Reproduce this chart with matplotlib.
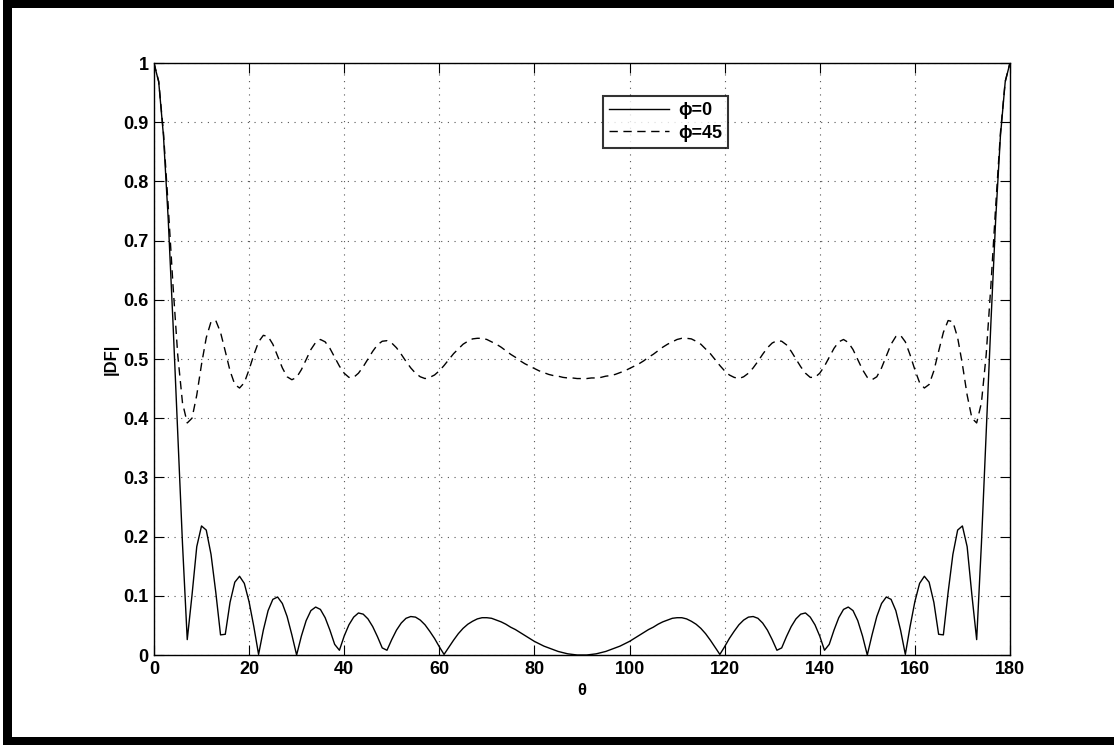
import matplotlib
matplotlib.use("Agg")
import matplotlib.pyplot as plt
from matplotlib.patches import Rectangle
from matplotlib.ticker import MultipleLocator, FuncFormatter

# Elevation angle grid (degrees)
theta = list(range(0, 181))

# |DF| for the phi = 0 cut
df_phi0 = [
    1.000, 0.968, 0.877, 0.736, 0.562, 0.373, 0.188, 0.026, 0.101, 0.183,
    0.218, 0.211, 0.170, 0.106, 0.034, 0.035, 0.089, 0.123, 0.133, 0.121,
    0.090, 0.048, 0.001, 0.042, 0.075, 0.094, 0.098, 0.087, 0.065, 0.034,
    0.000, 0.032, 0.058, 0.075, 0.081, 0.077, 0.063, 0.042, 0.018, 0.008,
    0.032, 0.051, 0.064, 0.071, 0.069, 0.061, 0.048, 0.031, 0.012, 0.008,
    0.026, 0.042, 0.054, 0.062, 0.065, 0.064, 0.059, 0.051, 0.040, 0.028,
    0.014, 0.001, 0.013, 0.025, 0.036, 0.045, 0.052, 0.057, 0.061, 0.063,
    0.063, 0.062, 0.059, 0.056, 0.052, 0.047, 0.043, 0.038, 0.033, 0.028,
    0.023, 0.019, 0.015, 0.012, 0.009, 0.006, 0.004, 0.002, 0.001, 0.000,
    0.000,
    0.000, 0.001, 0.002, 0.004, 0.006, 0.009, 0.012, 0.015, 0.019,
    0.023, 0.028, 0.033, 0.038, 0.043, 0.047, 0.052, 0.056, 0.059, 0.062,
    0.063, 0.063, 0.061, 0.057, 0.052, 0.045, 0.036, 0.025, 0.013, 0.001,
    0.014, 0.028, 0.040, 0.051, 0.059, 0.064, 0.065, 0.062, 0.054, 0.042,
    0.026, 0.008, 0.012, 0.031, 0.048, 0.061, 0.069, 0.071, 0.064, 0.051,
    0.032, 0.008, 0.018, 0.042, 0.063, 0.077, 0.081, 0.075, 0.058, 0.032,
    0.000, 0.034, 0.065, 0.087, 0.098, 0.094, 0.075, 0.042, 0.001, 0.048,
    0.090, 0.121, 0.133, 0.123, 0.089, 0.035, 0.034, 0.106, 0.170, 0.211,
    0.218, 0.183, 0.101, 0.026, 0.188, 0.373, 0.562, 0.736, 0.877, 0.968,
    1.000,
]

# |DF| for the phi = 45 cut
df_phi45 = [
    1.000, 0.969, 0.882, 0.758, 0.625, 0.507, 0.426, 0.392, 0.400, 0.439,
    0.491, 0.536, 0.563, 0.565, 0.545, 0.513, 0.480, 0.457, 0.451, 0.460,
    0.482, 0.507, 0.529, 0.540, 0.538, 0.525, 0.505, 0.485, 0.470, 0.465,
    0.469, 0.482, 0.499, 0.516, 0.528, 0.533, 0.529, 0.518, 0.503, 0.488,
    0.476, 0.469, 0.469, 0.476, 0.487, 0.500, 0.513, 0.524, 0.530, 0.531,
    0.527, 0.519, 0.508, 0.496, 0.485, 0.476, 0.470, 0.467, 0.469, 0.473,
    0.480, 0.489, 0.499, 0.509, 0.517, 0.525, 0.530, 0.534, 0.535, 0.535,
    0.533, 0.529, 0.525, 0.520, 0.514, 0.508, 0.503, 0.497, 0.492, 0.488,
    0.484, 0.480, 0.477, 0.474, 0.472, 0.471, 0.469, 0.468, 0.468, 0.467,
    0.467,
    0.467, 0.468, 0.468, 0.469, 0.471, 0.472, 0.474, 0.477, 0.480,
    0.484, 0.488, 0.492, 0.497, 0.503, 0.508, 0.514, 0.520, 0.525, 0.529,
    0.533, 0.535, 0.535, 0.534, 0.530, 0.525, 0.517, 0.509, 0.499, 0.489,
    0.480, 0.473, 0.469, 0.467, 0.470, 0.476, 0.485, 0.496, 0.508, 0.519,
    0.527, 0.531, 0.530, 0.524, 0.513, 0.500, 0.487, 0.476, 0.469, 0.469,
    0.476, 0.488, 0.503, 0.518, 0.529, 0.533, 0.528, 0.516, 0.499, 0.482,
    0.469, 0.465, 0.470, 0.485, 0.505, 0.525, 0.538, 0.540, 0.529, 0.507,
    0.482, 0.460, 0.451, 0.457, 0.480, 0.513, 0.545, 0.565, 0.563, 0.536,
    0.491, 0.439, 0.400, 0.392, 0.426, 0.507, 0.625, 0.758, 0.882, 0.969,
    1.000,
]

series_labels = ["ϕ=0", "ϕ=45"]
x_label = "θ"
y_label = "|DF|"

FONT = ["Liberation Sans", "DejaVu Sans"]
plt.rcParams["font.family"] = FONT
plt.rcParams["font.weight"] = "bold"

fig = plt.figure(figsize=(11.14, 7.45), dpi=100)
fig.patch.set_facecolor("white")

# Thick dark frame around the window (top, left, bottom)
for (x0, y0, w, h) in [(0.0027, 0.9893, 0.9973, 0.0107),
                       (0.0027, 0.0, 0.0081, 1.0),
                       (0.0027, 0.0, 0.9973, 0.0107)]:
    fig.add_artist(Rectangle((x0, y0), w, h, transform=fig.transFigure,
                             facecolor="black", edgecolor="none", zorder=10))

ax = fig.add_axes([0.1382, 0.1208, 0.7684, 0.7946])

ax.plot(theta, df_phi0, color="black", lw=1.0, label=series_labels[0])
ln45, = ax.plot(theta, df_phi45, color="black", lw=1.0, label=series_labels[1])
ln45.set_dashes((6, 4))

ax.set_xlim(0, 180)
ax.set_ylim(0, 1)
ax.xaxis.set_major_locator(MultipleLocator(20))
ax.yaxis.set_major_locator(MultipleLocator(0.1))
ax.yaxis.set_major_formatter(FuncFormatter(lambda v, p: f"{v:g}"))
ax.xaxis.set_major_formatter(FuncFormatter(lambda v, p: f"{v:g}"))

ax.grid(True, color="#555555", linestyle=(0, (1, 5)), linewidth=0.8)
ax.tick_params(direction="in", length=7, width=0.8, top=True, right=True,
               labelsize=13, pad=4)
for lab in ax.get_xticklabels() + ax.get_yticklabels():
    lab.set_fontweight("bold")
for s in ax.spines.values():
    s.set_linewidth(1.0)

ax.set_xlabel(x_label, fontsize=12, fontweight="bold", labelpad=4)
ax.set_ylabel(y_label, fontsize=12, fontweight="bold", labelpad=3)

leg = ax.legend(loc="upper left", bbox_to_anchor=(0.5245, 0.9444),
                prop={"size": 13, "weight": "bold"}, frameon=True,
                fancybox=False, handlelength=3.3, handletextpad=0.5,
                borderpad=0.35, labelspacing=0.3, borderaxespad=0)
leg.get_frame().set_edgecolor("black")
leg.get_frame().set_linewidth(1.5)

fig.savefig("out.png", dpi=100, facecolor="white")
